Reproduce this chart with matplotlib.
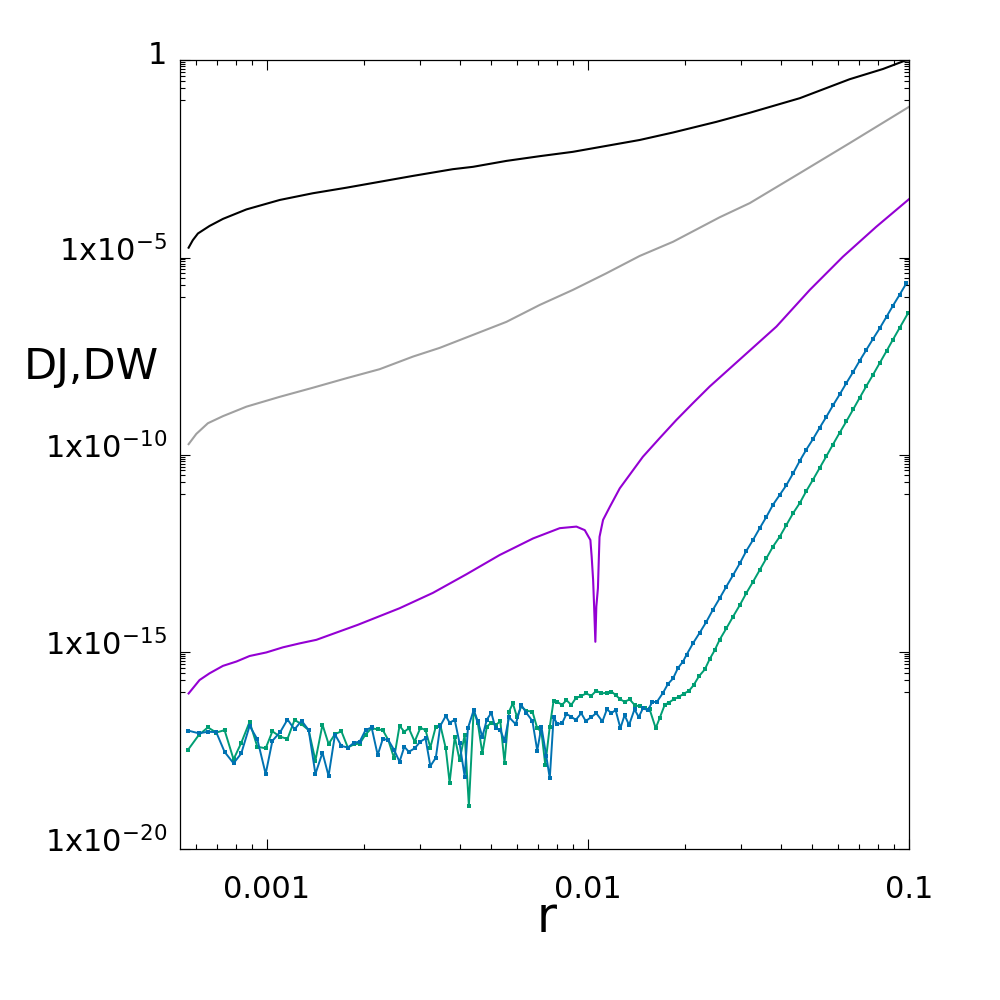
import numpy as np
import matplotlib
matplotlib.use('Agg')
import matplotlib.pyplot as plt
import matplotlib.transforms as mtransforms
from matplotlib.ticker import FixedLocator, LogLocator, NullFormatter

# values, stored as log10(r) and log10(value)

# black curve
black_logr = [-3.244, -3.231, -3.215, -3.179, -3.137, -3.064, -2.960, -2.857, -2.753, -2.649,
              -2.545, -2.421, -2.358, -2.254, -2.150, -2.047, -1.943, -1.839, -1.735, -1.600,
              -1.496, -1.340, -1.185, -1.081, -1.013, -1.000]
black_logv = [-4.75, -4.56, -4.39, -4.20, -4.02, -3.78, -3.54, -3.37, -3.23, -3.08,
              -2.93, -2.76, -2.70, -2.55, -2.43, -2.32, -2.17, -2.02, -1.83, -1.56,
              -1.33, -0.96, -0.48, -0.22, -0.01, 0.0]

# gray curve
gray_logr = [-3.244, -3.220, -3.184, -3.137, -3.064, -2.960, -2.857, -2.753, -2.649, -2.545,
             -2.462, -2.358, -2.254, -2.150, -2.047, -1.943, -1.839, -1.735, -1.590, -1.496,
             -1.340, -1.185, -1.000]
gray_logv = [-9.73, -9.47, -9.20, -9.02, -8.78, -8.53, -8.30, -8.06, -7.83, -7.51,
             -7.29, -6.96, -6.63, -6.20, -5.82, -5.40, -4.96, -4.60, -3.98, -3.62,
             -2.86, -2.10, -1.18]

# purple curve (with the dip near r=0.0105)
purple_logr = [-3.244, -3.210, -3.179, -3.137, -3.095, -3.054, -3.002, -2.950, -2.898, -2.846,
               -2.717, -2.587, -2.483, -2.379, -2.275, -2.171, -2.088, -2.036, -2.010, -1.9925,
               -1.9885, -1.984, -1.981, -1.977, -1.974, -1.969, -1.966, -1.964, -1.953, -1.932,
               -1.901, -1.829, -1.777, -1.725, -1.673, -1.621, -1.517, -1.413, -1.309, -1.206,
               -1.102, -1.000]
purple_logv = [-16.05, -15.71, -15.54, -15.35, -15.24, -15.10, -15.01, -14.88, -14.78, -14.69,
               -14.31, -13.89, -13.50, -13.03, -12.54, -12.12, -11.86, -11.82, -11.91, -12.16,
               -12.58, -13.17, -13.81, -14.74, -13.85, -13.38, -12.58, -12.08, -11.65, -11.32,
               -10.85, -10.05, -9.58, -9.12, -8.69, -8.27, -7.51, -6.75, -5.82, -4.98,
               -4.22, -3.52]

# blue curve (noisy floor, then power-law rise)
blue_logr = [-3.246, -3.212, -3.184, -3.158, -3.132, -3.104, -3.080, -3.054, -3.030, -3.004,
             -2.983, -2.958, -2.936, -2.914, -2.892, -2.870, -2.849, -2.827, -2.808, -2.788,
             -2.768, -2.748, -2.729, -2.711, -2.693, -2.674, -2.655, -2.639, -2.622, -2.604,
             -2.587, -2.572, -2.558, -2.540, -2.522, -2.506, -2.491, -2.474, -2.460, -2.443,
             -2.431, -2.415, -2.400, -2.384, -2.374, -2.356, -2.343, -2.329, -2.315, -2.301,
             -2.288, -2.273, -2.260, -2.246, -2.225, -2.208, -2.192, -2.173, -2.158, -2.145,
             -2.130, -2.119, -2.107, -2.096, -2.081, -2.067, -2.052, -2.038, -2.021, -2.007,
             -1.990, -1.974, -1.955, -1.941, -1.927, -1.914, -1.899, -1.886, -1.872, -1.855,
             -1.842, -1.829, -1.813, -1.800, -1.785, -1.766, -1.751, -1.735, -1.720, -1.704,
             -1.693, -1.673, -1.652, -1.631, -1.611, -1.590, -1.569, -1.548, -1.527, -1.507,
             -1.486, -1.465, -1.444, -1.424, -1.403, -1.382, -1.361, -1.340, -1.320, -1.299,
             -1.278, -1.257, -1.237, -1.216, -1.195, -1.174, -1.154, -1.133, -1.112, -1.091,
             -1.070, -1.050, -1.029, -1.008]
blue_logv = [-16.99, -17.06, -17.02, -17.03, -17.53, -17.82, -17.57, -16.87, -17.21, -18.09,
             -17.25, -17.02, -16.71, -16.96, -16.74, -16.98, -18.09, -17.55, -18.14, -17.09,
             -17.38, -17.42, -17.30, -17.27, -16.98, -16.91, -17.61, -17.20, -17.23, -17.48,
             -17.78, -17.40, -17.53, -17.44, -17.27, -17.19, -17.89, -17.68, -16.87, -16.62,
             -16.79, -16.72, -17.31, -18.16, -16.93, -16.47, -16.76, -17.15, -16.71, -16.54,
             -16.93, -16.98, -17.25, -16.65, -16.83, -16.34, -16.54, -16.75, -17.50, -16.89,
             -17.63, -18.20, -16.65, -16.82, -16.81, -16.57, -16.64, -16.72, -16.55, -16.75,
             -16.65, -16.55, -16.76, -16.45, -16.55, -16.47, -16.93, -16.60, -16.85, -16.45,
             -16.65, -16.43, -16.47, -16.27, -16.26, -16.03, -15.81, -15.67, -15.41, -15.24,
             -15.07, -14.78, -14.51, -14.23, -13.93, -13.64, -13.34, -13.05, -12.75, -12.44,
             -12.16, -11.86, -11.57, -11.27, -11.02, -10.77, -10.47, -10.15, -9.87, -9.60,
             -9.31, -9.03, -8.75, -8.47, -8.18, -7.90, -7.62, -7.34, -7.06, -6.79,
             -6.50, -6.22, -5.94, -5.65]

# green curve
green_logr = [-3.246, -3.212, -3.184, -3.158, -3.132, -3.104, -3.080, -3.054, -3.030, -3.004,
              -2.983, -2.958, -2.936, -2.914, -2.892, -2.870, -2.849, -2.827, -2.808, -2.788,
              -2.768, -2.748, -2.729, -2.711, -2.693, -2.674, -2.655, -2.639, -2.622, -2.604,
              -2.587, -2.572, -2.558, -2.540, -2.522, -2.506, -2.491, -2.474, -2.460, -2.443,
              -2.431, -2.415, -2.400, -2.384, -2.371, -2.356, -2.343, -2.329, -2.315, -2.301,
              -2.288, -2.273, -2.260, -2.246, -2.234, -2.221, -2.208, -2.192, -2.173, -2.158,
              -2.145, -2.133, -2.119, -2.107, -2.096, -2.081, -2.067, -2.052, -2.038, -2.021,
              -2.005, -1.990, -1.974, -1.958, -1.941, -1.927, -1.914, -1.899, -1.886, -1.870,
              -1.855, -1.839, -1.823, -1.808, -1.789, -1.777, -1.761, -1.748, -1.733, -1.716,
              -1.702, -1.685, -1.671, -1.654,
              -1.636, -1.621, -1.605, -1.590, -1.569, -1.548, -1.527, -1.507, -1.486, -1.465,
              -1.444, -1.424, -1.403, -1.382, -1.361, -1.340, -1.320, -1.299, -1.278, -1.257,
              -1.237, -1.216, -1.195, -1.174, -1.154, -1.133, -1.112, -1.091, -1.070, -1.050,
              -1.029, -1.003]
green_logv = [-17.48, -17.10, -16.91, -17.04, -16.98, -17.72, -17.30, -16.77, -17.40, -17.44,
              -17.01, -17.15, -17.20, -16.72, -16.83, -16.98, -17.75, -16.84, -17.33, -17.08,
              -17.01, -17.42, -17.34, -17.32, -17.09, -16.93, -16.96, -16.98, -17.23, -17.69,
              -16.87, -17.02, -16.93, -17.27, -16.92, -16.98, -17.42, -16.89, -16.85, -17.44,
              -18.31, -17.15, -17.74, -17.10, -18.90, -16.47, -16.81, -17.57, -16.89, -16.79,
              -16.85, -16.76, -17.80, -16.51, -16.30, -16.65, -16.38, -16.49, -16.51, -16.93,
              -17.02, -17.86, -16.89, -16.23, -16.26, -16.34, -16.22, -16.34, -16.17, -16.11,
              -16.05, -16.11, -15.98, -16.05, -16.03, -16.00, -16.09, -16.20, -16.26, -16.20,
              -16.34, -16.38, -16.43, -16.45, -16.93, -16.68, -16.34, -16.28, -16.20, -16.13,
              -16.06, -15.98, -15.84, -15.61,
              -15.44, -15.18, -14.95, -14.69, -14.40, -14.10, -13.81, -13.51, -13.22, -12.92,
              -12.62, -12.33, -12.08, -11.78, -11.48, -11.22, -10.92, -10.63, -10.33, -10.03,
              -9.74, -9.44, -9.15, -8.85, -8.56, -8.26, -7.97, -7.67, -7.37, -7.08,
              -6.78, -6.41]

xticks = [1e-3, 1e-2, 1e-1]
xticklabels = ['0.001', '0.01', '0.1']
yticks = [1e-20, 1e-15, 1e-10, 1e-5, 1]
yticklabels = ['1x10$^{-20}$', '1x10$^{-15}$', '1x10$^{-10}$', '1x10$^{-5}$', '1']


def pts(logr, logv):
    return 10.0 ** np.array(logr), 10.0 ** np.array(logv)


fig = plt.figure(figsize=(10, 10), dpi=100)
ax = fig.add_axes([0.180, 0.1507, 0.729, 0.789])

r, v = pts(black_logr, black_logv)
ax.plot(r, v, color='black', lw=1.5)
r, v = pts(gray_logr, gray_logv)
ax.plot(r, v, color='#a0a0a0', lw=1.5)
r, v = pts(purple_logr, purple_logv)
ax.plot(r, v, color='#9400d3', lw=1.5)
r, v = pts(green_logr, green_logv)
ax.plot(r, v, color='#009e73', lw=1.4, marker='s', ms=3.4, mew=0)
r, v = pts(blue_logr, blue_logv)
ax.plot(r, v, color='#0072b2', lw=1.4, marker='s', ms=3.4, mew=0)

ax.set_xscale('log')
ax.set_yscale('log')
ax.set_xlim(5.36e-4, 0.1)
ax.set_ylim(1e-20, 1)

ax.xaxis.set_major_locator(FixedLocator(xticks))
ax.set_xticklabels(xticklabels)
ax.xaxis.set_minor_locator(LogLocator(base=10, subs=np.arange(2, 10), numticks=50))
ax.xaxis.set_minor_formatter(NullFormatter())

ax.yaxis.set_major_locator(FixedLocator(yticks))
ax.set_yticklabels(yticklabels)
ymin = [k * 10.0 ** (n - 1) for n in (0, -5, -10, -15) for k in range(1, 10)]
ax.yaxis.set_minor_locator(FixedLocator(ymin))
ax.yaxis.set_minor_formatter(NullFormatter())

ax.tick_params(which='both', direction='in', top=True, right=True, width=0.8, colors='black')
ax.tick_params(which='major', length=7.2, labelsize=22)
ax.tick_params(which='minor', length=3.6)
ax.tick_params(axis='x', which='major', pad=18.5)
ax.tick_params(axis='y', which='major', pad=9.4)
for s in ax.spines.values():
    s.set_linewidth(0.9)

# baseline of y labels sits a little below the tick
off = mtransforms.ScaledTranslation(0, -0.035, fig.dpi_scale_trans)
for lab in ax.get_yticklabels():
    lab.set_va('baseline')
    lab.set_transform(lab.get_transform() + off)

fig.text(0.091, 0.6207, 'DJ,DW', ha='center', va='baseline', fontsize=31)
fig.text(0.5467, 0.0683, 'r', ha='center', va='baseline', fontsize=35)

fig.savefig('out.png', dpi=100)
